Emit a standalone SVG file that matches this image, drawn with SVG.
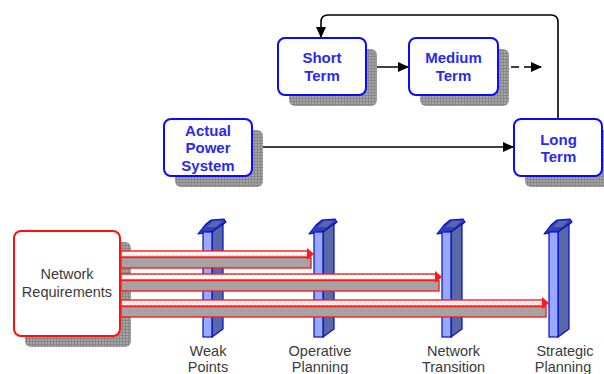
<svg xmlns="http://www.w3.org/2000/svg" width="604" height="374" viewBox="0 0 604 374">
  <style>
    .box { fill: #ffffff; stroke: #0a0aff; stroke-width: 2; }
    .req { fill: #ffffff; stroke: #ff1010; stroke-width: 2; }
    .shadow { fill: url(#dots); }
    .lbl { font-family: "Liberation Sans", Arial, sans-serif; font-size: 15px; font-weight: bold; fill: #2a2aee; text-anchor: middle; }
    .cap { font-family: "Liberation Sans", Arial, sans-serif; font-size: 14.5px; fill: #3a3a3a; text-anchor: middle; }
    .conn { fill: none; stroke: #000000; stroke-width: 1.6; }
    .front { fill: #9aa8ff; stroke: #0010c0; stroke-width: 1.2; }
    .side { fill: #5a68aa; stroke: #0010c0; stroke-width: 1.2; }
    .flange { fill: #3040c0; stroke: #0010c0; stroke-width: 1.2; stroke-linejoin: round; }
    .flangetop { fill: #5a68aa; }
    .bar-body { fill: #a4a4a4; stroke: #ff1a1a; stroke-width: 1.4; }
    .bar-top { fill: url(#wave); stroke: #ff1a1a; stroke-width: 1.4; }
    .bar-tip { fill: #ff1a1a; }
  </style>
  <defs>
    <pattern id="dots" width="3" height="3" patternUnits="userSpaceOnUse">
      <rect width="3" height="3" fill="#888888"/>
      <rect width="2" height="2" fill="#a4a4a4"/>
    </pattern>
    <pattern id="wave" width="4" height="6" patternUnits="userSpaceOnUse">
      <rect width="4" height="6" fill="#ffffff"/>
      <path d="M0,3.5 Q1,1.5 2,3.5 T4,3.5" fill="none" stroke="#f4a8a8" stroke-width="1"/>
    </pattern>
    <marker id="head" markerUnits="userSpaceOnUse" markerWidth="11" markerHeight="10" refX="10" refY="5" orient="auto">
      <path d="M0,0 L11,5 L0,10 Z" fill="#000000"/>
    </marker>
    <g id="pillar">
      <polygon class="flange" points="-5,2 2,-7 8,-12 21,-13 23,-10 18,-6 9,0"/>
      <polygon class="flangetop" points="4,-5 10,-11 19,-11 13,-5"/>
      <polygon class="side" points="9,0 20,-8 20,97 9,105"/>
      <rect class="front" x="0" y="0" width="9" height="105"/>
    </g>
  </defs>

  <!-- connectors between the planning horizons -->
  <g id="connectors">
    <line class="conn" x1="366" y1="67" x2="408" y2="67" marker-end="url(#head)"/>
    <line class="conn" x1="498" y1="67" x2="541" y2="67" stroke-dasharray="8,5" marker-end="url(#head)"/>
    <line class="conn" x1="252" y1="147" x2="513" y2="147" marker-end="url(#head)"/>
    <path class="conn" stroke-width="2" d="M558,119 V22 Q558,15 551,15 H328 Q321,15 321,22 V37" marker-end="url(#head)"/>
  </g>

  <g id="node-short-term">
    <rect class="shadow" x="289" y="49" width="88" height="57" rx="6"/>
    <rect class="box" x="278" y="38" width="88" height="57" rx="7"/>
    <text class="lbl" x="322" y="63">Short</text>
    <text class="lbl" x="322" y="81">Term</text>
  </g>

  <g id="node-medium-term">
    <rect class="shadow" x="420" y="49" width="89" height="57" rx="6"/>
    <rect class="box" x="409" y="38" width="89" height="57" rx="7"/>
    <text class="lbl" x="453.5" y="63">Medium</text>
    <text class="lbl" x="453.5" y="81">Term</text>
  </g>

  <g id="node-actual-power-system">
    <rect class="shadow" x="175" y="130" width="88" height="57" rx="6"/>
    <rect class="box" x="164" y="119" width="88" height="57" rx="7"/>
    <text class="lbl" x="208" y="135.5">Actual</text>
    <text class="lbl" x="208" y="153">Power</text>
    <text class="lbl" x="208" y="170.5">System</text>
  </g>

  <g id="node-long-term">
    <rect class="shadow" x="525" y="130" width="88" height="57" rx="6"/>
    <rect class="box" x="514" y="119" width="88" height="57" rx="7"/>
    <text class="lbl" x="558.5" y="144.5">Long</text>
    <text class="lbl" x="558.5" y="161.5">Term</text>
  </g>

  <!-- milestones -->
  <g id="node-weak-points">
    <use href="#pillar" x="203" y="232"/>
    <text class="cap" x="208" y="356">Weak</text>
    <text class="cap" x="208" y="372">Points</text>
  </g>
  <g id="node-operative-planning">
    <use href="#pillar" x="314" y="232"/>
    <text class="cap" x="320" y="356">Operative</text>
    <text class="cap" x="320" y="372">Planning</text>
  </g>
  <g id="node-network-transition">
    <use href="#pillar" x="442" y="232"/>
    <text class="cap" x="453.5" y="356">Network</text>
    <text class="cap" x="453.5" y="372">Transition</text>
  </g>
  <g id="node-strategic-planning">
    <use href="#pillar" x="549" y="232"/>
    <text class="cap" x="565" y="356">Strategic</text>
    <text class="cap" x="563" y="372">Planning</text>
  </g>

  <g id="node-network-requirements">
    <rect class="shadow" x="25" y="242" width="106" height="105" rx="6"/>
    <rect class="req" x="14" y="231" width="106" height="105" rx="7"/>
    <text class="cap" x="67" y="279">Network</text>
    <text class="cap" x="67" y="296.5">Requirements</text>
  </g>

  <!-- requirement arrows reaching each milestone -->
  <g id="bars">
    <rect class="bar-body" x="121" y="257.5" width="190" height="10.5"/>
    <rect class="bar-top" x="121" y="251" width="187" height="6"/>
    <path class="bar-tip" d="M307,248 L314,254 L307,260 Z"/>

    <rect class="bar-body" x="121" y="280.5" width="318" height="10.5"/>
    <rect class="bar-top" x="121" y="274" width="315" height="6"/>
    <path class="bar-tip" d="M435,271 L442,277 L435,283 Z"/>

    <rect class="bar-body" x="121" y="306.5" width="425" height="10.5"/>
    <rect class="bar-top" x="121" y="300" width="422" height="6"/>
    <path class="bar-tip" d="M542,297 L549,303 L542,309 Z"/>
  </g>
</svg>
